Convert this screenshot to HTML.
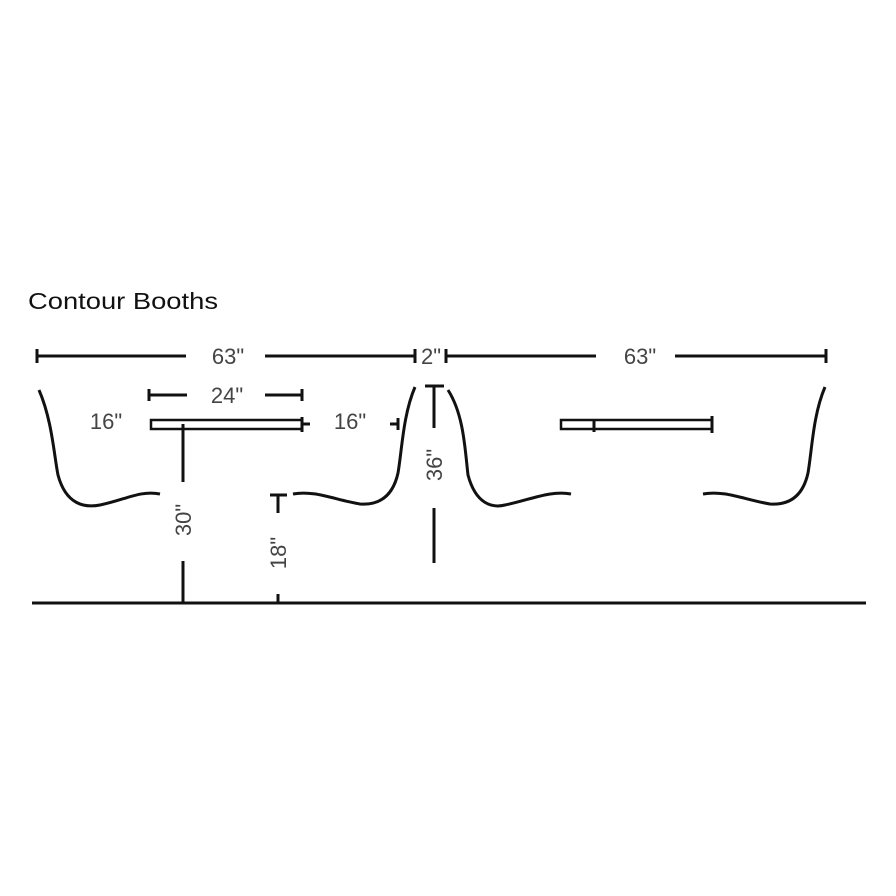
<!DOCTYPE html>
<html><head><style>html,body{margin:0;padding:0;background:#fff}svg{display:block}</style></head>
<body>
<svg width="896" height="896" viewBox="0 0 896 896" xmlns="http://www.w3.org/2000/svg">
<rect width="896" height="896" fill="#fff"/>
<text x="28" y="309" font-family="Liberation Sans, sans-serif" font-size="23" fill="#111" textLength="190" lengthAdjust="spacingAndGlyphs">Contour Booths</text>
<g stroke="#111" stroke-width="3" fill="none">
<line x1="37" y1="356" x2="186" y2="356"/><line x1="37" y1="349" x2="37" y2="363"/>
<line x1="265" y1="356" x2="415" y2="356"/><line x1="415" y1="349" x2="415" y2="363"/>
<line x1="446" y1="349" x2="446" y2="363"/><line x1="446" y1="356" x2="596" y2="356"/>
<line x1="675" y1="356" x2="826" y2="356"/><line x1="826" y1="349" x2="826" y2="363"/>
<line x1="149" y1="395" x2="187" y2="395"/><line x1="149" y1="389" x2="149" y2="401"/>
<line x1="265" y1="395" x2="302" y2="395"/><line x1="302" y1="389" x2="302" y2="401"/>
<path d="M39,390 C52,420 54,455 58,475 C66,505 85,508 100,505 C125,500 140,490 160,494"/>
<path d="M415,387 C403,415 402,450 398,473 C392,500 375,505 360,504 C335,500 315,490 293,494"/>
<path d="M448,390 C464,415 465,450 468,475 C476,505 493,508 505,505 C530,500 550,490 571,494"/>
<path d="M825,387 C813,415 812,450 808,473 C802,500 785,505 770,504 C745,500 725,490 703,494"/>
<rect x="151" y="420" width="151" height="9" stroke-width="2.5"/>
<line x1="302" y1="417" x2="302" y2="432"/><line x1="302" y1="424" x2="310" y2="424"/>
<rect x="561" y="420" width="151" height="9" stroke-width="2.5"/>
<line x1="712" y1="416" x2="712" y2="433"/><line x1="594" y1="420" x2="594" y2="432"/>
<line x1="390" y1="424" x2="398" y2="424"/><line x1="398" y1="418" x2="398" y2="430"/>
<line x1="183" y1="424" x2="183" y2="482"/><line x1="183" y1="561" x2="183" y2="603"/>
<line x1="270" y1="495" x2="287" y2="495"/><line x1="278" y1="495" x2="278" y2="513"/>
<line x1="278" y1="594" x2="278" y2="603"/>
<line x1="425" y1="386" x2="444" y2="386"/><line x1="434" y1="386" x2="434" y2="428"/>
<line x1="434" y1="508" x2="434" y2="563"/>
<line x1="32" y1="603" x2="866" y2="603"/>
</g>
<g font-family="Liberation Sans, sans-serif" font-size="22" fill="#444" text-anchor="middle">
<text x="228" y="364">63"</text>
<text x="431" y="364">2"</text>
<text x="640" y="364">63"</text>
<text x="227" y="403">24"</text>
<text x="106" y="429">16"</text>
<text x="350" y="429">16"</text>
<text transform="translate(191,520) rotate(-90)">30"</text>
<text transform="translate(286,553) rotate(-90)">18"</text>
<text transform="translate(442,465) rotate(-90)">36"</text>
</g>
</svg>
</body></html>
